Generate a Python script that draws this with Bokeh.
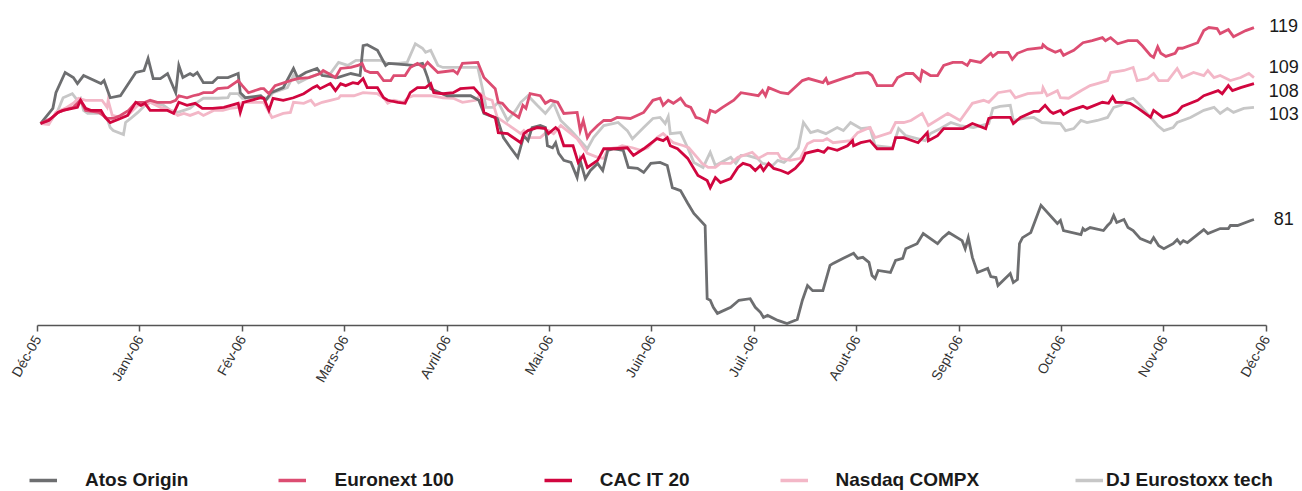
from bokeh.plotting import figure
from bokeh.layouts import column
from bokeh.models import ColumnDataSource, FixedTicker, Legend, LegendItem, Range1d
from bokeh.core.properties import value
from bokeh.embed import file_html
from bokeh.resources import INLINE

# ---- data (x = months since Dec-05, y = index base 100) ----
month_labels = ["Déc-05", "Janv-06", "Fév-06", "Mars-06", "Avril-06", "Mai-06", "Juin-06",
                "Juil.-06", "Aout-06", "Sept-06", "Oct-06", "Nov-06", "Déc-06"]

atos_t = [0.03, 0.15, 0.18, 0.27, 0.35, 0.39, 0.45, 0.62, 0.65, 0.71, 0.81, 0.96, 1.04, 1.08, 1.13, 1.20, 1.27,
          1.35, 1.38, 1.42, 1.49, 1.52, 1.56, 1.62, 1.71, 1.76, 1.86, 1.96, 1.98, 2.03, 2.18, 2.23, 2.28, 2.40,
          2.50, 2.54, 2.62, 2.73, 2.78, 2.93, 3.06, 3.15, 3.18, 3.22, 3.32, 3.40, 3.43, 3.67, 3.76, 3.81, 3.84,
          4.00, 4.23, 4.31, 4.36, 4.49, 4.55, 4.62, 4.69, 4.75, 4.79, 4.83, 4.91, 4.96, 4.98, 5.03, 5.06, 5.09,
          5.14, 5.21, 5.27, 5.30, 5.35, 5.40, 5.47, 5.52, 5.57, 5.63, 5.72, 5.77, 5.86, 5.92, 5.99, 6.08, 6.15,
          6.20, 6.28, 6.35, 6.41, 6.52, 6.54, 6.57, 6.60, 6.64, 6.77, 6.85, 6.96, 7.01, 7.06, 7.09, 7.13, 7.23,
          7.32, 7.42, 7.47, 7.52, 7.57, 7.67, 7.74, 7.77, 7.87, 7.97, 8.01, 8.06, 8.12, 8.15, 8.18, 8.21, 8.33,
          8.38, 8.45, 8.48, 8.59, 8.65, 8.79, 8.84, 8.90, 9.03, 9.06, 9.09, 9.13, 9.18, 9.28, 9.31, 9.36, 9.38,
          9.50, 9.53, 9.57, 9.59, 9.62, 9.70, 9.80, 9.96, 9.99, 10.02, 10.19, 10.21, 10.23, 10.28, 10.41, 10.45,
          10.48, 10.51, 10.54, 10.61, 10.65, 10.70, 10.77, 10.87, 10.90, 10.95, 11.00, 11.09, 11.13, 11.16, 11.19,
          11.23, 11.39, 11.43, 11.55, 11.63, 11.65, 11.72, 11.85, 11.88]
atos_v = [100.0, 103.0, 106.1, 110.1, 109.1, 107.9, 109.5, 107.9, 108.5, 105.1, 105.5, 110.1, 110.5, 112.9, 108.9,
          108.9, 109.9, 106.1, 111.5, 109.1, 109.9, 109.5, 110.1, 108.1, 108.1, 109.1, 109.1, 109.9, 106.1, 105.1,
          105.5, 104.6, 106.1, 107.1, 110.9, 109.1, 110.1, 110.9, 109.5, 109.1, 109.9, 109.5, 115.4, 115.6, 114.5,
          111.5, 111.9, 111.5, 111.9, 109.1, 106.9, 105.5, 105.5, 104.6, 102.0, 101.0, 97.2, 95.2, 93.3, 97.6,
          96.6, 99.2, 99.6, 99.2, 95.6, 95.2, 96.2, 94.1, 92.7, 92.3, 89.3, 92.7, 89.1, 90.7, 92.1, 90.7, 94.7,
          95.0, 94.7, 91.3, 91.1, 90.3, 92.1, 92.3, 91.7, 87.3, 86.7, 84.2, 82.2, 79.8, 65.3, 65.0, 63.6, 62.4,
          63.6, 65.0, 65.3, 63.6, 62.6, 61.6, 62.0, 61.0, 60.4, 61.2, 65.0, 67.9, 66.9, 66.9, 71.9, 72.3, 73.3,
          74.3, 73.3, 73.5, 72.5, 69.9, 69.3, 70.9, 70.5, 72.9, 73.3, 75.2, 76.2, 78.2, 76.2, 77.4, 78.4, 76.8,
          75.2, 77.4, 73.5, 70.5, 71.3, 69.7, 69.5, 67.9, 70.3, 68.5, 69.1, 76.2, 77.4, 78.4, 83.8, 80.2, 80.8,
          78.8, 78.0, 79.2, 78.8, 79.4, 78.8, 79.8, 80.4, 81.8, 80.4, 81.0, 79.4, 78.8, 77.2, 76.4, 77.4, 75.8,
          75.2, 76.2, 77.0, 76.2, 76.8, 76.4, 79.0, 78.2, 79.2, 79.2, 79.8, 79.8, 80.8, 81.0]

euronext_t = [0.03, 0.13, 0.20, 0.25, 0.35, 0.40, 0.42, 0.47, 0.60, 0.68, 0.74, 0.81, 0.89, 0.96, 1.05, 1.10, 1.17,
              1.30, 1.35, 1.38, 1.46, 1.52, 1.57, 1.62, 1.71, 1.76, 1.86, 1.96, 2.00, 2.06, 2.18, 2.21, 2.26, 2.32,
              2.47, 2.54, 2.65, 2.76, 2.79, 2.91, 2.96, 3.06, 3.13, 3.17, 3.20, 3.25, 3.32, 3.38, 3.45, 3.48, 3.59,
              3.64, 3.71, 3.77, 3.81, 3.91, 4.06, 4.10, 4.15, 4.30, 4.36, 4.47, 4.50, 4.54, 4.60, 4.70, 4.74, 4.77,
              4.81, 4.91, 4.96, 5.01, 5.08, 5.14, 5.27, 5.30, 5.33, 5.37, 5.40, 5.47, 5.53, 5.60, 5.66, 5.79, 5.92,
              6.01, 6.08, 6.11, 6.16, 6.21, 6.28, 6.33, 6.38, 6.43, 6.47, 6.54, 6.57, 6.62, 6.69, 6.80, 6.87, 7.04,
              7.08, 7.11, 7.14, 7.26, 7.33, 7.47, 7.53, 7.67, 7.70, 7.72, 7.89, 7.96, 7.99, 8.11, 8.15, 8.20, 8.35,
              8.40, 8.48, 8.55, 8.62, 8.64, 8.72, 8.79, 8.85, 8.94, 9.03, 9.08, 9.11, 9.21, 9.31, 9.33, 9.38, 9.48,
              9.52, 9.57, 9.67, 9.81, 9.82, 9.86, 9.94, 9.99, 10.02, 10.06, 10.12, 10.21, 10.30, 10.40, 10.43, 10.48,
              10.55, 10.65, 10.74, 10.79, 10.87, 10.90, 10.94, 10.97, 11.02, 11.11, 11.14, 11.18, 11.33, 11.39, 11.44,
              11.52, 11.55, 11.63, 11.68, 11.80, 11.88]
euronext_v = [100.0, 101.0, 102.2, 102.6, 103.2, 104.2, 104.6, 102.6, 102.2, 101.0, 101.0, 101.6, 102.6, 104.2,
              104.2, 104.6, 104.2, 104.2, 104.6, 105.5, 105.1, 105.5, 105.7, 106.1, 106.1, 106.9, 107.1, 108.5,
              107.5, 106.1, 106.9, 106.9, 105.9, 107.5, 108.5, 108.9, 109.1, 109.9, 110.5, 109.1, 110.9, 111.1,
              111.5, 111.9, 110.5, 110.1, 110.1, 108.5, 108.5, 109.5, 109.5, 111.1, 111.9, 111.1, 112.1, 110.1,
              110.5, 109.9, 111.9, 112.1, 109.1, 106.9, 104.2, 104.0, 102.6, 101.2, 103.6, 103.0, 105.9, 105.5,
              104.0, 104.6, 104.2, 102.0, 102.2, 98.6, 100.6, 97.2, 98.2, 99.6, 100.6, 100.6, 101.2, 101.0, 102.2,
              104.6, 105.0, 103.6, 104.6, 104.0, 105.0, 103.6, 103.2, 101.2, 101.0, 100.2, 102.6, 102.2, 103.2,
              104.6, 106.1, 105.5, 106.5, 105.5, 107.1, 106.1, 105.9, 108.5, 108.9, 108.1, 108.9, 107.9, 109.1,
              109.5, 109.9, 110.1, 109.5, 107.5, 107.5, 109.1, 109.9, 109.9, 108.5, 110.5, 109.5, 109.5, 111.5,
              112.1, 112.1, 111.5, 112.5, 112.1, 113.9, 113.3, 114.1, 114.1, 112.7, 113.9, 114.7, 115.0, 115.6,
              114.9, 114.1, 114.5, 113.5, 113.9, 114.5, 116.0, 116.4, 117.0, 116.4, 117.0, 115.8, 116.4, 116.4,
              115.4, 113.5, 113.1, 115.2, 113.9, 113.3, 113.9, 114.9, 114.9, 116.0, 118.4, 119.0, 118.8, 117.8,
              118.6, 117.2, 118.4, 119.0]

cac_t = [0.03, 0.11, 0.20, 0.25, 0.39, 0.42, 0.47, 0.52, 0.62, 0.66, 0.71, 0.81, 0.88, 0.96, 1.01, 1.05, 1.10, 1.27,
         1.33, 1.38, 1.46, 1.54, 1.61, 1.71, 1.82, 1.96, 1.98, 2.01, 2.18, 2.21, 2.26, 2.30, 2.40, 2.50, 2.60, 2.69,
         2.73, 2.76, 2.86, 2.91, 2.96, 3.01, 3.08, 3.13, 3.18, 3.22, 3.32, 3.38, 3.42, 3.52, 3.59, 3.64, 3.71, 3.79,
         3.84, 3.87, 3.96, 4.06, 4.13, 4.26, 4.33, 4.36, 4.42, 4.47, 4.50, 4.59, 4.72, 4.75, 4.79, 4.88, 4.96, 4.99,
         5.06, 5.09, 5.14, 5.23, 5.28, 5.33, 5.37, 5.47, 5.53, 5.63, 5.76, 5.82, 5.92, 6.05, 6.11, 6.15, 6.18, 6.25,
         6.35, 6.45, 6.54, 6.57, 6.62, 6.67, 6.77, 6.84, 6.89, 6.96, 7.01, 7.06, 7.09, 7.14, 7.19, 7.26, 7.33, 7.40,
         7.47, 7.50, 7.62, 7.68, 7.72, 7.81, 7.91, 7.96, 7.97, 8.04, 8.13, 8.20, 8.35, 8.38, 8.46, 8.60, 8.69, 8.70,
         8.79, 8.85, 9.04, 9.13, 9.26, 9.29, 9.33, 9.50, 9.53, 9.60, 9.73, 9.78, 9.84, 9.89, 9.92, 9.99, 10.02,
         10.09, 10.21, 10.25, 10.40, 10.46, 10.50, 10.53, 10.61, 10.67, 10.75, 10.87, 10.90, 10.99, 11.06, 11.13,
         11.18, 11.33, 11.39, 11.53, 11.57, 11.63, 11.67, 11.75, 11.88]
cac_v = [100.0, 100.6, 102.2, 102.6, 103.2, 104.6, 103.0, 102.6, 102.6, 101.2, 100.2, 101.0, 101.6, 104.2, 103.6,
         104.0, 102.6, 102.6, 102.0, 104.2, 103.6, 104.0, 103.0, 103.0, 103.2, 104.0, 102.2, 104.2, 105.1, 105.0,
         102.6, 105.0, 104.6, 105.1, 105.9, 107.1, 107.5, 106.9, 107.9, 106.5, 107.9, 107.5, 108.1, 107.9, 108.9,
         107.1, 107.1, 105.1, 104.6, 104.2, 104.0, 106.1, 107.1, 107.1, 107.9, 106.1, 105.9, 106.1, 106.9, 107.1,
         105.5, 102.2, 101.6, 101.2, 98.2, 98.0, 96.2, 98.0, 98.6, 99.2, 99.0, 98.0, 99.2, 98.6, 95.6, 95.6, 92.3,
         93.7, 91.3, 92.7, 95.0, 95.0, 95.2, 93.7, 95.0, 97.0, 96.6, 97.2, 95.6, 95.0, 93.1, 89.7, 88.7, 87.3, 89.3,
         88.3, 89.1, 91.3, 92.1, 91.7, 90.7, 91.7, 90.7, 92.1, 91.1, 90.7, 90.1, 91.1, 92.7, 94.1, 94.7, 94.3, 95.2,
         94.7, 95.6, 96.6, 95.6, 96.2, 96.6, 95.0, 95.0, 97.2, 97.2, 96.2, 98.2, 96.6, 97.6, 99.0, 99.0, 100.0, 99.0,
         101.0, 101.2, 101.2, 100.0, 101.2, 102.4, 102.4, 103.6, 102.4, 102.0, 102.6, 101.8, 102.6, 103.4, 103.0,
         104.2, 104.0, 105.3, 104.2, 104.2, 104.0, 103.0, 101.2, 102.6, 101.2, 101.6, 102.2, 103.4, 104.6, 105.5,
         106.5, 105.9, 107.5, 106.5, 107.1, 107.9]

nasdaq_t = [0.03, 0.11, 0.18, 0.27, 0.35, 0.40, 0.47, 0.52, 0.63, 0.68, 0.69, 0.73, 0.81, 0.88, 0.98, 1.05, 1.10,
            1.20, 1.30, 1.37, 1.43, 1.49, 1.57, 1.62, 1.66, 1.72, 1.81, 1.88, 1.96, 2.00, 2.06, 2.21, 2.29, 2.40,
            2.47, 2.50, 2.60, 2.67, 2.71, 2.78, 2.86, 2.94, 2.96, 3.09, 3.18, 3.32, 3.38, 3.42, 3.48, 3.57, 3.62,
            3.67, 3.84, 3.96, 4.06, 4.15, 4.28, 4.33, 4.38, 4.44, 4.49, 4.65, 4.72, 4.75, 4.81, 4.91, 4.99, 5.04,
            5.11, 5.21, 5.27, 5.37, 5.47, 5.53, 5.57, 5.66, 5.71, 5.81, 5.89, 5.96, 6.05, 6.11, 6.21, 6.31, 6.36,
            6.45, 6.49, 6.55, 6.62, 6.67, 6.77, 6.84, 6.98, 7.04, 7.13, 7.23, 7.26, 7.35, 7.45, 7.52, 7.58, 7.67,
            7.71, 7.77, 7.94, 8.01, 8.13, 8.18, 8.33, 8.38, 8.46, 8.53, 8.64, 8.70, 8.89, 9.01, 9.13, 9.24, 9.29,
            9.38, 9.50, 9.55, 9.67, 9.81, 9.82, 9.86, 9.96, 9.99, 10.07, 10.19, 10.28, 10.35, 10.45, 10.48, 10.61,
            10.70, 10.74, 10.84, 10.90, 10.95, 11.04, 11.13, 11.18, 11.29, 11.39, 11.43, 11.49, 11.55, 11.65,
            11.75, 11.83, 11.88]
nasdaq_v = [100.0, 99.8, 102.2, 103.0, 104.0, 105.0, 104.6, 104.6, 104.6, 103.2, 104.6, 101.6, 101.2, 101.6, 103.6,
            103.6, 104.2, 103.2, 102.6, 101.6, 102.0, 101.6, 102.2, 101.6, 102.0, 102.6, 102.6, 103.0, 103.2, 104.2,
            104.2, 104.2, 101.2, 102.0, 102.2, 104.2, 104.0, 104.6, 103.6, 104.2, 104.6, 105.0, 105.5, 105.5, 106.1,
            105.9, 105.1, 104.0, 104.6, 104.2, 105.1, 105.5, 105.5, 105.1, 105.0, 104.2, 104.6, 105.9, 105.0, 104.6,
            101.2, 99.0, 98.0, 98.6, 97.2, 97.2, 98.6, 98.0, 99.6, 98.0, 97.0, 94.1, 93.3, 93.1, 95.0, 95.2, 95.6,
            95.2, 94.7, 95.2, 97.2, 98.0, 96.2, 95.6, 95.2, 93.1, 92.1, 91.3, 91.3, 92.1, 92.1, 93.3, 94.3, 93.1,
            94.1, 94.1, 93.1, 92.7, 93.1, 96.0, 96.6, 96.6, 97.0, 96.2, 96.6, 98.2, 99.2, 97.2, 98.2, 100.2, 100.2,
            100.6, 102.0, 99.6, 102.0, 100.6, 104.0, 104.6, 104.2, 106.1, 106.5, 105.1, 105.9, 106.1, 107.1, 105.5,
            106.5, 105.1, 105.0, 106.5, 107.5, 107.9, 108.5, 110.1, 110.5, 111.1, 108.5, 108.9, 109.9, 108.5, 108.5,
            110.9, 109.1, 110.1, 109.5, 110.5, 109.1, 109.5, 108.5, 109.1, 109.9, 109.1]

dj_t = [0.03, 0.13, 0.20, 0.25, 0.34, 0.39, 0.42, 0.45, 0.49, 0.62, 0.68, 0.71, 0.74, 0.84, 0.86, 0.91, 0.98, 1.05,
        1.10, 1.23, 1.30, 1.37, 1.43, 1.49, 1.56, 1.62, 1.76, 1.86, 1.88, 1.96, 2.00, 2.18, 2.25, 2.30, 2.44, 2.50,
        2.55, 2.65, 2.76, 2.86, 2.94, 3.03, 3.11, 3.18, 3.35, 3.42, 3.52, 3.61, 3.69, 3.76, 3.79, 3.84, 3.91, 3.96,
        4.10, 4.30, 4.35, 4.38, 4.45, 4.50, 4.59, 4.67, 4.72, 4.79, 4.88, 4.96, 5.04, 5.11, 5.21, 5.30, 5.37, 5.43,
        5.53, 5.62, 5.67, 5.76, 5.81, 5.92, 6.01, 6.08, 6.13, 6.16, 6.18, 6.28, 6.35, 6.41, 6.50, 6.57, 6.62, 6.77,
        6.82, 6.87, 6.93, 7.03, 7.08, 7.18, 7.23, 7.29, 7.35, 7.43, 7.48, 7.55, 7.62, 7.70, 7.81, 7.87, 7.94, 8.04,
        8.13, 8.18, 8.35, 8.41, 8.48, 8.59, 8.67, 8.72, 8.82, 8.92, 9.01, 9.14, 9.29, 9.33, 9.40, 9.50, 9.53, 9.63,
        9.73, 9.81, 9.99, 10.04, 10.12, 10.19, 10.25, 10.35, 10.45, 10.51, 10.58, 10.64, 10.70, 10.77, 10.87, 10.94,
        11.00, 11.09, 11.13, 11.26, 11.39, 11.49, 11.55, 11.62, 11.68, 11.78, 11.88]
dj_v = [100.0, 100.6, 102.6, 105.1, 105.9, 104.6, 105.0, 102.6, 102.0, 102.0, 101.0, 99.2, 98.6, 97.8, 100.2, 101.0,
        102.2, 103.6, 104.2, 103.6, 102.6, 102.2, 102.6, 103.0, 104.2, 105.0, 105.0, 105.1, 105.9, 105.9, 105.0,
        105.1, 105.0, 106.1, 107.1, 109.5, 108.1, 109.1, 109.9, 109.9, 112.1, 111.5, 112.5, 112.5, 112.5, 111.9,
        111.9, 112.1, 115.8, 114.9, 114.1, 114.5, 111.5, 111.1, 111.1, 111.1, 106.5, 103.2, 103.2, 104.2, 100.6,
        102.6, 104.2, 105.5, 103.6, 102.0, 104.0, 100.6, 98.6, 96.6, 95.0, 97.2, 99.6, 100.0, 100.2, 98.6, 97.0,
        99.2, 101.0, 101.2, 100.0, 101.4, 98.0, 98.2, 95.2, 92.3, 91.3, 94.3, 91.7, 93.3, 92.1, 93.7, 93.7, 93.1,
        92.1, 91.7, 92.7, 92.3, 93.3, 95.2, 100.2, 98.2, 98.6, 98.0, 99.2, 98.6, 100.2, 99.0, 99.2, 95.6, 95.2,
        99.0, 97.6, 97.0, 96.6, 98.0, 99.0, 100.2, 99.6, 99.2, 100.0, 103.0, 103.4, 103.6, 100.6, 101.0, 101.2,
        100.2, 100.0, 98.6, 99.0, 100.6, 100.2, 100.6, 101.2, 103.2, 103.6, 104.6, 105.0, 103.6, 101.2, 99.6, 98.6,
        99.2, 100.2, 101.2, 102.6, 103.2, 102.0, 103.0, 102.2, 103.0, 103.2]

series_names = ["Atos Origin", "Euronext 100", "CAC IT 20", "Nasdaq COMPX", "DJ Eurostoxx tech"]
series_colors = ["#6d6e70", "#dc4d72", "#d1063f", "#f3b7c7", "#c7c7c7"]
series_t = [atos_t, euronext_t, cac_t, nasdaq_t, dj_t]
series_v = [atos_v, euronext_v, cac_v, nasdaq_v, dj_v]
label_shift_px = [-1, -2, 7, -11, 6]   # end-label nudges to avoid overlap (pixels, down positive)

FONT = "Liberation Sans"

sources = [ColumnDataSource(dict(t=series_t[i], v=series_v[i])) for i in range(5)]

# ---- main figure ----
p = figure(width=1302, height=455, output_backend="svg", toolbar_location=None,
           x_range=Range1d(0, 12.354), y_range=Range1d(60, 124.36),
           min_border_left=37, min_border_right=0, min_border_top=0, min_border_bottom=130,
           y_axis_location=None)
p.frame_align = False
p.outline_line_color = None
p.grid.grid_line_color = None
p.background_fill_color = "white"
p.border_fill_color = "white"

draw_order = [4, 3, 0, 1, 2]
for i in draw_order:
    p.line("t", "v", source=sources[i], line_color=series_colors[i], line_width=2.8, line_join="miter")

# end labels
lab_src = ColumnDataSource(dict(
    x=[12.17] * 5,
    y=[v[-1] for v in series_v],
    text=[str(int(round(v[-1]))) for v in series_v],
    dy=label_shift_px,
))
p.text(x="x", y="y", text="text", source=lab_src, text_font=value(FONT),
       text_font_size="18px", text_color="#1a1a1a", text_align="center", text_baseline="middle",
       y_offset="dy")

# x axis
ax = p.xaxis[0]
ax.ticker = FixedTicker(ticks=list(range(len(month_labels))))
ax.major_label_overrides = {i: lab for i, lab in enumerate(month_labels)}
ax.bounds = (0, 12)
ax.major_label_orientation = 1.05
ax.major_label_text_font = FONT
ax.major_label_text_font_size = "14px"
ax.major_label_text_color = "#333333"
ax.major_label_standoff = 5
ax.axis_line_color = "#555555"
ax.axis_line_width = 1.5
ax.major_tick_line_color = "#555555"
ax.major_tick_line_width = 1.5
ax.major_tick_out = 6
ax.major_tick_in = 0
ax.minor_tick_line_color = None

# ---- legend strip (same series, view range keeps the lines out of sight) ----
q = figure(width=1302, height=36, output_backend="svg", toolbar_location=None,
           x_range=Range1d(0, 12.354), y_range=Range1d(0, 1),
           min_border_left=0, min_border_right=0, min_border_top=0, min_border_bottom=0,
           x_axis_location=None, y_axis_location=None)
q.frame_align = False
q.outline_line_color = None
q.grid.grid_line_color = None
q.border_fill_color = "white"
items = []
for i in range(5):
    r = q.line("t", "v", source=sources[i], line_color=series_colors[i], line_width=3.5)
    items.append(LegendItem(label=series_names[i], renderers=[r]))

legend_style = dict(orientation="horizontal", glyph_width=28, glyph_height=20, spacing=90,
                    padding=0, margin=0, border_line_color=None, background_fill_alpha=0,
                    label_text_font=FONT, label_text_font_size="19px",
                    label_text_font_style="bold", label_text_color="#1a1a1a", label_height=20)
legend_a = Legend(items=items[:4], location=(29, 0), label_standoff=28, **legend_style)
legend_b = Legend(items=items[4:], location=(1075, 0), label_standoff=3, **legend_style)
q.add_layout(legend_a, "center")
q.add_layout(legend_b, "center")

layout = column(p, q, spacing=0)
open("out.html", "w").write(file_html(layout, INLINE))
